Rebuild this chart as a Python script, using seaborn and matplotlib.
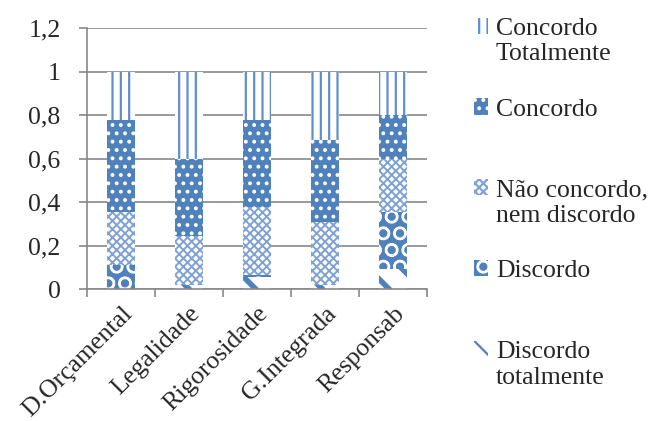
import numpy as np
import pandas as pd
import matplotlib
matplotlib.use("Agg")
import matplotlib.pyplot as plt
import seaborn as sns
from matplotlib.patches import Patch, Rectangle
from matplotlib.legend_handler import HandlerPatch

sns.set_theme(style="white")
plt.rcParams["font.family"] = ["Liberation Serif", "DejaVu Serif"]
plt.rcParams["hatch.linewidth"] = 1.6

# Survey answers per dimension (share of respondents)
categories = ["D.Orçamental", "Legalidade", "Rigorosidade", "G.Integrada", "Responsab"]
discordo_totalmente = [0.00, 0.02, 0.055, 0.02, 0.09]
discordo = [0.11, 0.00, 0.01, 0.00, 0.265]
nao_concordo_nem_discordo = [0.245, 0.225, 0.31, 0.29, 0.245]
concordo = [0.42, 0.355, 0.40, 0.375, 0.20]
concordo_totalmente = [0.225, 0.40, 0.225, 0.315, 0.20]

series_labels = ["Discordo\ntotalmente", "Discordo", "Não concordo,\nnem discordo",
                 "Concordo", "Concordo\nTotalmente"]
y_ticks = [0, 0.2, 0.4, 0.6, 0.8, 1.0, 1.2]
y_tick_labels = ["0", "0,2", "0,4", "0,6", "0,8", "1", "1,2"]

FS = 18.5
BLUE = "#4F81BD"
# (face colour, hatch colour, hatch, hatch width) for each answer, bottom to top
styles = [
    ("white", BLUE, "\\", 4.0),
    (BLUE, "white", "O", 1.6),
    ("white", "#7FA2D3", "xxxx", 1.4),
    (BLUE, "white", "..", 1.6),
    ("white", "#5F8FCC", "||", 1.6),
]

layers = [discordo_totalmente, discordo, nao_concordo_nem_discordo, concordo, concordo_totalmente]
cumulative = np.cumsum(np.array(layers), axis=0)

fig = plt.figure(figsize=(6.52, 4.21), dpi=100)
ax = fig.add_axes([87 / 652, 1 - 289 / 421, 340 / 652, 261 / 421])


def style_patch(p, face, hcol, hatch, hlw):
    p.set_facecolor(face)
    p.set_edgecolor(hcol)
    p.set_hatch(hatch)
    p.set_linewidth(0)
    if hasattr(p, "set_hatch_linewidth"):
        p.set_hatch_linewidth(hlw)


# Stacked columns drawn as overlapping cumulative bars, tallest first
for i in reversed(range(len(layers))):
    face, hcol, hatch, hlw = styles[i]
    df = pd.DataFrame({"cat": categories, "val": cumulative[i]})
    n_before = len(ax.patches)
    sns.barplot(data=df, x="cat", y="val", ax=ax, width=0.4, saturation=1,
                color=face, errorbar=None)
    for p in ax.patches[n_before:]:
        style_patch(p, face, hcol, hatch, hlw)

ax.set_ylim(0, 1.2)
ax.set_xlim(-0.5, len(categories) - 0.5)
ax.set_yticks(y_ticks)
ax.set_yticklabels(y_tick_labels, fontsize=FS)
ax.set_xticks(range(len(categories)))
ax.set_xticklabels(categories, fontsize=FS, rotation=45, ha="right",
                   rotation_mode="anchor")
ax.set_xlabel("")
ax.set_ylabel("")

ax.set_xticks(np.arange(-0.5, len(categories)), minor=True)
ax.tick_params(axis="x", which="major", length=0, pad=10)
ax.tick_params(axis="x", which="minor", length=6, color="#888888", width=1.2,
               direction="out", bottom=True)
ax.tick_params(axis="y", length=6, color="#888888", width=1.2, direction="out",
               left=True, pad=13)

ax.yaxis.grid(True, color="#888888", linewidth=1.2)
ax.set_axisbelow(True)
for s in ["top", "right"]:
    ax.spines[s].set_visible(False)
for s in ["left", "bottom"]:
    ax.spines[s].set_color("#888888")
    ax.spines[s].set_linewidth(1.2)


class FirstLineHandler(HandlerPatch):
    """Legend key aligned with the first line of a two-line label."""

    def create_artists(self, legend, orig_handle, xdescent, ydescent, width,
                       height, fontsize, trans):
        shift = 0.6 * fontsize
        r = Rectangle((-xdescent, -ydescent + shift), width, height)
        self.update_prop(r, orig_handle, legend)
        r.set_transform(trans)
        return [r]


handles = []
labels = []
for i in reversed(range(len(layers))):
    face, hcol, hatch, hlw = styles[i]
    h = Patch(label=series_labels[i])
    style_patch(h, face, hcol, hatch, hlw)
    handles.append(h)
    lab = series_labels[i]
    labels.append(lab if "\n" in lab else lab + "\n ")

fig.legend(handles=handles, labels=labels, loc="upper left",
           bbox_to_anchor=(474 / 652, 1 - 18 / 421),
           frameon=False, fontsize=FS, handlelength=0.55, handleheight=0.6,
           handletextpad=0.3, labelspacing=1.3, borderaxespad=0,
           borderpad=0, handler_map={Patch: FirstLineHandler()})

fig.savefig("out.png", dpi=100)
